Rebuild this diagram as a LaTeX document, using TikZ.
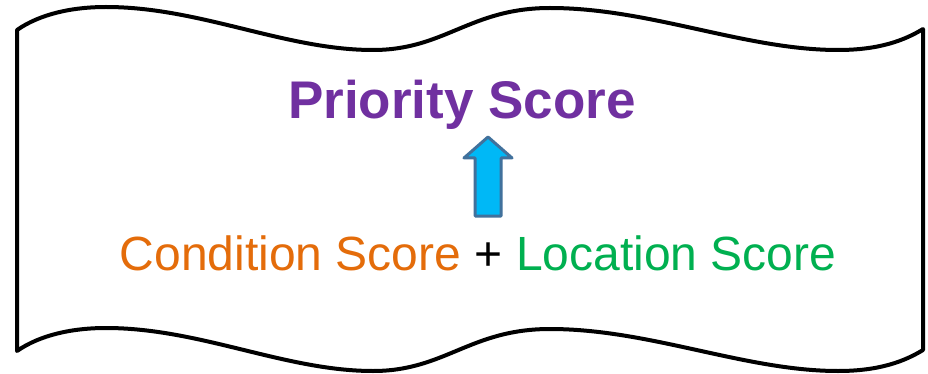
\documentclass[tikz,border=0pt]{standalone}
\usepackage{fontspec}
\setmainfont{Liberation Sans}
\definecolor{prio}{HTML}{7030A0}
\definecolor{cond}{HTML}{E46C0A}
\definecolor{loc}{HTML}{00B050}
\definecolor{arrfill}{HTML}{00B8F6}
\definecolor{arrline}{HTML}{41719C}
\tikzset{
  wave/.style={draw=black, line width=4pt, line join=round, fill=white},
  blockarrow/.style={draw=arrline, fill=arrfill, line width=3pt, line join=round},
  title/.style={text=prio, font=\fontsize{53}{60}\selectfont\bfseries, inner sep=0pt, anchor=base},
  formula/.style={font=\fontsize{48}{56}\selectfont, inner sep=0pt, anchor=base}
}
\begin{document}
\begin{tikzpicture}[x=1pt,y=1pt]
\useasboundingbox (0,0) rectangle (928,-374);
% wavy banner
\draw[wave] (17,-30)
  .. controls (40,-14) and (72,-7) .. (106,-7)
  .. controls (200,-7) and (285,-50) .. (373,-50)
  .. controls (445,-50) and (470,-8) .. (550,-8)
  .. controls (650,-8) and (745,-50) .. (838,-50)
  .. controls (880,-50) and (905,-40) .. (923,-29)
  -- (923,-350)
  .. controls (905,-361) and (880,-371) .. (838,-371)
  .. controls (745,-371) and (650,-329) .. (550,-329)
  .. controls (470,-329) and (445,-371) .. (373,-371)
  .. controls (285,-371) and (200,-328) .. (106,-328)
  .. controls (72,-328) and (40,-335) .. (17,-351)
  -- cycle;
% texts
\node[title] (prio) at (462,-119) {Priority Score};
\node[formula] (sum) at (478,-270) {\textcolor{cond}{Condition Score} + \textcolor{loc}{Location Score}};
% block arrow
\draw[blockarrow] (475,-216) -- (475,-158) -- (464,-158) -- (488,-137) -- (512,-158) -- (501,-158) -- (501,-216) -- cycle;
\end{tikzpicture}
\end{document}
